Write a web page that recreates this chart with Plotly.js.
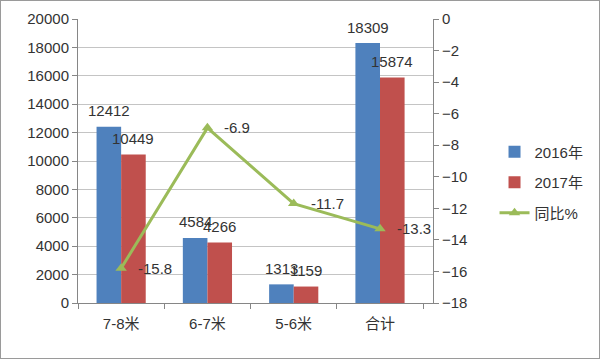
<!DOCTYPE html>
<html><head><meta charset="utf-8">
<script src="https://cdn.plot.ly/plotly-3.0.1.min.js"></script>
<style>body{margin:0;padding:0;background:#fff}#wrap{width:598px;height:357px;border:1px solid #9a9a9a}</style>
</head><body><div id="wrap"><div id="chart" style="width:598px;height:357px"></div></div>
<script>
const categories = ['7-8米', '6-7米', '5-6米', '合计'];
const values2016 = [12412, 4584, 1313, 18309];
const values2017 = [10449, 4266, 1159, 15874];
const yoy = [-15.8, -6.9, -11.7, -13.3];
const seriesNames = ['2016年', '2017年', '同比%'];

const FONT = 'Liberation Sans, Noto Sans CJK SC, sans-serif';
const TXT = '#333333';

const traces = [
  {type:'bar', name:seriesNames[0], x:categories, y:values2016, marker:{color:'#4F81BD'}, legendgroup:'a'},
  {type:'bar', name:seriesNames[1], x:categories, y:values2017, marker:{color:'#C0504D'}, legendgroup:'b'},
  {type:'scatter', mode:'lines+markers', name:seriesNames[2], x:categories, y:yoy, yaxis:'y2',
   line:{color:'#9BBB59', width:3}, marker:{symbol:'triangle-up', size:10, color:'#9BBB59'}, legendgroup:'c'}
];

const annotations = [];
categories.forEach((c,i)=>{
  annotations.push({x:c, y:values2016[i], xref:'x', yref:'y', text:String(values2016[i]), showarrow:false, xshift:-12, yshift:16, font:{size:15,color:TXT,family:FONT}});
  annotations.push({x:c, y:values2017[i], xref:'x', yref:'y', text:String(values2017[i]), showarrow:false, xshift:12, yshift:16, font:{size:15,color:TXT,family:FONT}});
  annotations.push({x:c, y:yoy[i], xref:'x', yref:'y2', text:String(yoy[i]), showarrow:false, xanchor:'left', xshift:15, font:{size:15,color:TXT,family:FONT}});
});

const layout = {
  width:598, height:357,
  margin:{l:77, r:165, t:18, b:55},
  paper_bgcolor:'#fff', plot_bgcolor:'#fff',
  font:{family:FONT, size:15, color:TXT},
  barmode:'group', bargap:0.43, bargroupgap:0,
  showlegend:true,
  legend:{x:1.17, y:0.59, xanchor:'left', yanchor:'top', traceorder:'grouped', tracegroupgap:8, font:{size:15,color:TXT,family:FONT}, bgcolor:'rgba(0,0,0,0)'},
  xaxis:{showline:true, linecolor:'#868686', ticks:'outside', tickson:'boundaries', ticklen:5, tickcolor:'#868686', showgrid:false, tickfont:{size:15}, ticklabelstandoff:7},
  yaxis:{range:[0,20000], dtick:2000, tickformat:'d', showline:true, linecolor:'#868686', ticks:'outside', ticklen:5, tickcolor:'#868686', gridcolor:'#c4c4c4', zeroline:false, tickfont:{size:15}},
  yaxis2:{range:[-18,0], dtick:2, overlaying:'y', side:'right', showline:true, linecolor:'#868686', ticks:'outside', ticklen:5, tickcolor:'#868686', showgrid:false, zeroline:false, tickfont:{size:15}},
  annotations:annotations
};

Plotly.newPlot('chart', traces, layout, {displayModeBar:false, staticPlot:true});
</script></body></html>
